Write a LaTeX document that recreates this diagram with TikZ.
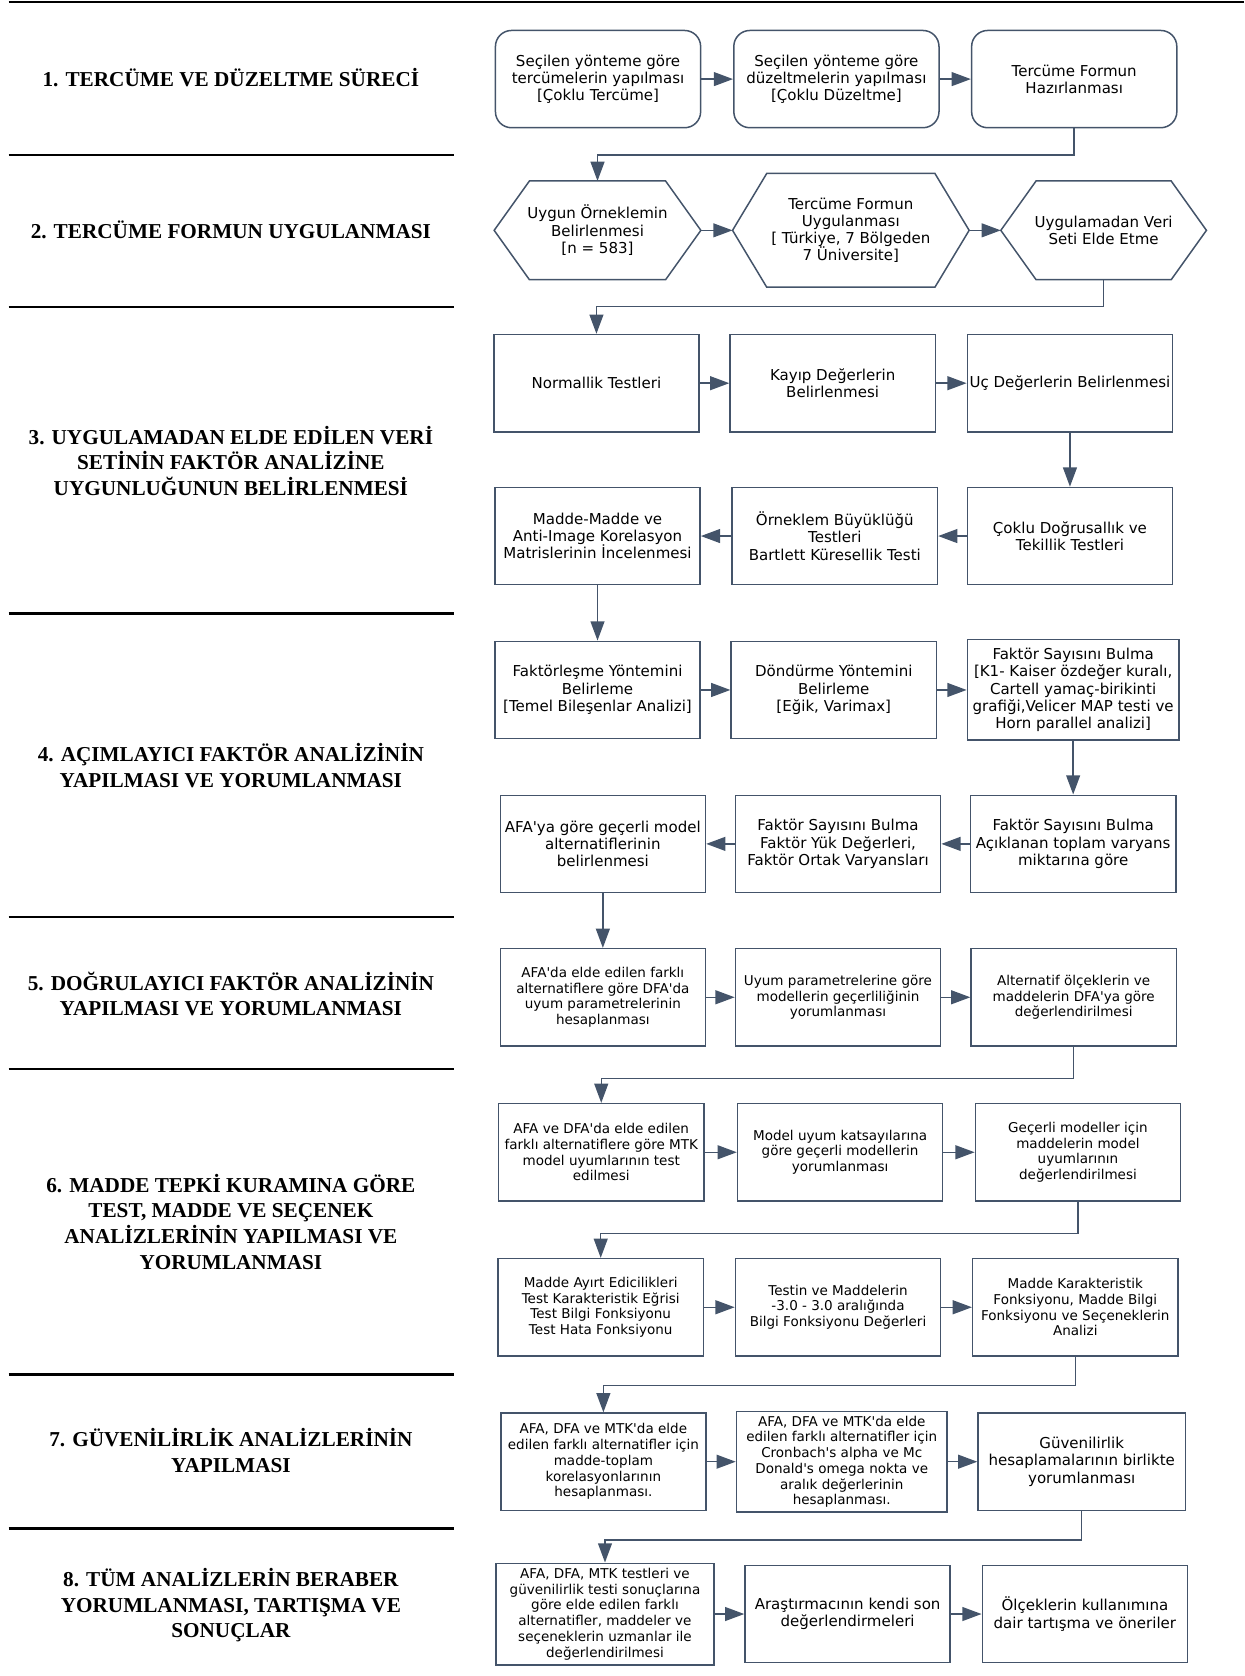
\documentclass[tikz,border=0pt]{standalone}
\usepackage{fontspec}
\setmainfont{Liberation Serif}
\setsansfont{DejaVu Sans}[Ligatures=TeXOff]
\usepackage{tikz}
\usetikzlibrary{arrows.meta}
\definecolor{slate}{RGB}{68,84,106}
\tikzset{
  >={Triangle[length=3.6mm,width=2.6mm]},
}
\tikzstyle{box}=[draw=slate,line width=0.8pt,align=center,inner sep=1pt,
  minimum width=3.84cm,minimum height=1.82cm,font=\sffamily\fontsize{8}{9.2}\selectfont]
\tikzstyle{small}=[font=\sffamily\fontsize{7.2}{8.4}\selectfont]
\tikzstyle{rbox}=[box,rounded corners=3mm]
\tikzstyle{hexa}=[box,draw=none]
\tikzstyle{link}=[draw=slate,line width=0.8pt,->]
\tikzstyle{rule}=[line width=1.2pt]
\tikzstyle{title}=[align=center,font=\bfseries\fontsize{11.3}{13.6}\selectfont]

\begin{document}
\begin{tikzpicture}[x=0.02cm,y=-0.02cm]
\useasboundingbox (0,0) rectangle (1164,1568);
% rules between the stages
\draw[rule] (8,2) -- (1164,2);
\foreach \y in {145,287,574,858,1000,1286,1430}
  \draw[rule] (8,\y) -- (425,\y);

% stage titles
\node[title] (t1) at (216,73) {1. TERCÜME VE DÜZELTME SÜRECİ};
\node[title] (t2) at (216,215) {2. TERCÜME FORMUN UYGULANMASI};
\node[title] (t3) at (216,431) {3. UYGULAMADAN ELDE EDİLEN VERİ\\SETİNİN FAKTÖR ANALİZİNE\\UYGUNLUĞUNUN BELİRLENMESİ};
\node[title] (t4) at (216,716) {4. AÇIMLAYICI FAKTÖR ANALİZİNİN\\YAPILMASI VE YORUMLANMASI};
\node[title] (t5) at (216,930) {5. DOĞRULAYICI FAKTÖR ANALİZİNİN\\YAPILMASI VE YORUMLANMASI};
\node[title] (t6) at (216,1143) {6. MADDE TEPKİ KURAMINA GÖRE\\TEST, MADDE VE SEÇENEK\\ANALİZLERİNİN YAPILMASI VE\\YORUMLANMASI};
\node[title] (t7) at (216,1357) {7. GÜVENİLİRLİK ANALİZLERİNİN\\YAPILMASI};
\node[title] (t8) at (216,1502) {8. TÜM ANALİZLERİN BERABER\\YORUMLANMASI, TARTIŞMA VE\\SONUÇLAR};

% 1
\node[rbox] (a1) at (559.5,74) {Seçilen yönteme göre\\tercümelerin yapılması\\{}[Çoklu Tercüme]};
\node[rbox] (a2) at (782.5,74) {Seçilen yönteme göre\\düzeltmelerin yapılması\\{}[Çoklu Düzeltme]};
\node[rbox] (a3) at (1005,74) {Tercüme Formun\\Hazırlanması};
\draw[link] (a1) -- (a2);
\draw[link] (a2) -- (a3);

% 2
\node[hexa] (b1) at (559,215.5) {Uygun Örneklemin\\Belirlenmesi\\{}[n = 583]};
\node[hexa,minimum width=4.4cm,minimum height=2.1cm] (b2) at (796,215.5) {Tercüme Formun\\Uygulanması\\{}[ Türkiye, 7 Bölgeden\\7 Üniversite]};
\node[hexa,minimum width=3.82cm] (b3) at (1032.5,215.5) {Uygulamadan Veri\\Seti Elde Etme};
\foreach \n/\d in {b1/0.66cm,b2/0.64cm,b3/0.66cm}
  \draw[draw=slate,line width=0.8pt] (\n.west) -- ([xshift=\d]\n.north west) -- ([xshift=-\d]\n.north east)
    -- (\n.east) -- ([xshift=-\d]\n.south east) -- ([xshift=\d]\n.south west) -- cycle;
\draw[link] (a3.south) -- ++(0,25) -| (b1.north);
\draw[link] (b1) -- (b2);
\draw[link] (b2) -- (b3);

% 3
\node[box] (c1) at (558,358.5) {Normallik Testleri};
\node[box] (c2) at (779,358.5) {Kayıp Değerlerin\\Belirlenmesi};
\node[box] (c3) at (1001,358.5) {Uç Değerlerin Belirlenmesi};
\node[box] (c4) at (1001,501.5) {Çoklu Doğrusallık ve\\Tekillik Testleri};
\node[box] (c5) at (781,501.5) {Örneklem Büyüklüğü\\Testleri\\Bartlett Küresellik Testi};
\node[box] (c6) at (559,501.5) {Madde-Madde ve\\Anti-Image Korelasyon\\Matrislerinin İncelenmesi};
\draw[link] (b3.south) -- ++(0,25) -| (c1.north);
\draw[link] (c1) -- (c2);
\draw[link] (c2) -- (c3);
\draw[link] (c3) -- (c4);
\draw[link] (c4) -- (c5);
\draw[link] (c5) -- (c6);

% 4
\node[box] (d1) at (559,645.5) {Faktörleşme Yöntemini\\Belirleme\\{}[Temel Bileşenlar Analizi]};
\node[box] (d2) at (780,645.5) {Döndürme Yöntemini\\Belirleme\\{}[Eğik, Varimax]};
\node[box,minimum width=3.96cm,minimum height=1.88cm] (d3) at (1004,645.5) {Faktör Sayısını Bulma\\{}[K1- Kaiser özdeğer kuralı,\\Cartell yamaç-birikinti\\grafiği,Velicer MAP testi ve\\Horn parallel analizi]};
\node[box] (d4) at (1004,789.5) {Faktör Sayısını Bulma\\Açıklanan toplam varyans\\miktarına göre};
\node[box] (d5) at (784,789.5) {Faktör Sayısını Bulma\\Faktör Yük Değerleri,\\Faktör Ortak Varyansları};
\node[box] (d6) at (564,789.5) {AFA'ya göre geçerli model\\alternatiflerinin\\belirlenmesi};
\draw[link] (c6) -- (d1);
\draw[link] (d1) -- (d2);
\draw[link] (d2) -- (d3);
\draw[link] (d3) -- (d4);
\draw[link] (d4) -- (d5);
\draw[link] (d5) -- (d6);

% 5
\node[box,small] (e1) at (564,933) {AFA'da elde edilen farklı\\alternatiflere göre DFA'da\\uyum parametrelerinin\\hesaplanması};
\node[box,small] (e2) at (784,933) {Uyum parametrelerine göre\\modellerin geçerliliğinin\\yorumlanması};
\node[box,small] (e3) at (1004.5,933) {Alternatif ölçeklerin ve\\maddelerin DFA'ya göre\\değerlendirilmesi};
\draw[link] (d6) -- (e1);
\draw[link] (e1) -- (e2);
\draw[link] (e2) -- (e3);

% 6
\node[box,small] (f1) at (562.5,1078) {AFA ve DFA'da elde edilen\\farklı alternatiflere göre MTK\\model uyumlarının test\\edilmesi};
\node[box,small] (f2) at (786,1078) {Model uyum katsayılarına\\göre geçerli modellerin\\yorumlanması};
\node[box,small] (f3) at (1008.5,1078) {Geçerli modeller için\\maddelerin model\\uyumlarının\\değerlendirilmesi};
\node[box,small] (g1) at (562,1223) {Madde Ayırt Edicilikleri\\Test Karakteristik Eğrisi\\Test Bilgi Fonksiyonu\\Test Hata Fonksiyonu};
\node[box,small] (g2) at (784,1223) {Testin ve Maddelerin\\-3.0 - 3.0 aralığında\\Bilgi Fonksiyonu Değerleri};
\node[box,small] (g3) at (1006,1223) {Madde Karakteristik\\Fonksiyonu, Madde Bilgi\\Fonksiyonu ve Seçeneklerin\\Analizi};
\draw[link] (e3.south) -- ++(0,30) -| (f1.north);
\draw[link] (f1) -- (f2);
\draw[link] (f2) -- (f3);
\draw[link] (f3.south) -- ++(0,30) -| (g1.north);
\draw[link] (g1) -- (g2);
\draw[link] (g2) -- (g3);

% 7
\node[box,small] (h1) at (564.5,1367.5) {AFA, DFA ve MTK'da elde\\edilen farklı alternatifler için\\madde-toplam\\korelasyonlarının\\hesaplanması.};
\node[box,small,minimum width=3.94cm,minimum height=1.88cm] (h2) at (787.5,1367.5) {AFA, DFA ve MTK'da elde\\edilen farklı alternatifler için\\Cronbach's alpha ve Mc\\Donald's omega nokta ve\\aralık değerlerinin\\hesaplanması.};
\node[box,minimum width=3.88cm] (h3) at (1012,1367.5) {Güvenilirlik\\hesaplamalarının birlikte\\yorumlanması};
\draw[link] (g3.south) -- ++(0,27) -| (h1.north);
\draw[link] (h1) -- (h2);
\draw[link] (h2) -- (h3);

% 8
\node[box,small,minimum width=4.08cm,minimum height=1.9cm] (i1) at (566,1510) {AFA, DFA, MTK testleri ve\\güvenilirlik testi sonuçlarına\\göre elde edilen farklı\\alternatifler, maddeler ve\\seçeneklerin uzmanlar ile\\değerlendirilmesi};
\node[box] (i2) at (793,1510) {Araştırmacının kendi son\\değerlendirmeleri};
\node[box] (i3) at (1015,1510) {Ölçeklerin kullanımına\\dair tartışma ve öneriler};
\draw[link] (h3.south) -- ++(0,27) -| (i1.north);
\draw[link] (i1) -- (i2);
\draw[link] (i2) -- (i3);
\end{tikzpicture}
\end{document}
